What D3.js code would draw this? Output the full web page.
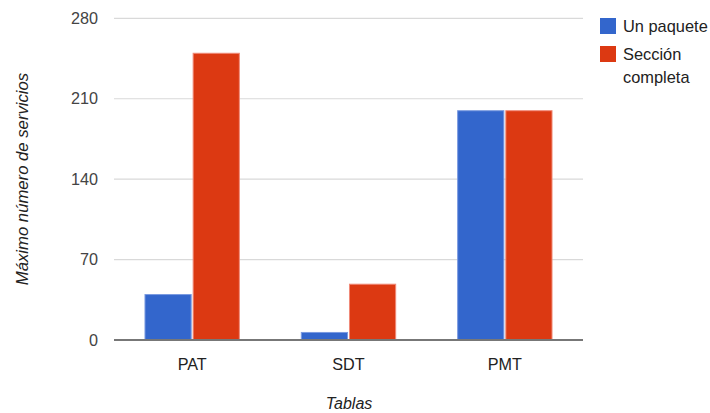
<!DOCTYPE html>
<html>
<head>
<meta charset="utf-8">
<script src="https://cdn.jsdelivr.net/npm/d3@7"></script>
<style>
  html, body { margin: 0; padding: 0; background: #fff; }
  svg { display: block; font-family: "Liberation Sans", Arial, sans-serif; }
</style>
</head>
<body>
<svg id="chart" width="710" height="413"></svg>
<script>
// Categories and series
const categories = ["PAT", "SDT", "PMT"];
const seriesNames = ["Un paquete", "Sección completa"];
const unPaquete = [40, 7, 200];
const seccionCompleta = [250, 49, 200];
const yTicks = [0, 70, 140, 210, 280];
const colors = ["#3366cc", "#dc3912"];
const strokes = ["#7a9ae0", "#f08a78"];

const seriesValues = [unPaquete, seccionCompleta];
const rows = categories.map((c, i) => ({
  cat: c,
  vals: seriesNames.map((s, j) => ({ s, j, v: seriesValues[j][i] }))
}));

const svg = d3.select("#chart");
const plotLeft = 114, plotRight = 583, plotTop = 18.3, plotBottom = 340;

const x0 = d3.scaleBand().domain(categories).range([plotLeft, plotRight])
  .paddingInner(0.39).paddingOuter(0.195);
const x1 = d3.scaleBand().domain(d3.range(seriesNames.length))
  .range([0, x0.bandwidth()]).paddingInner(0.02);
const y = d3.scaleLinear().domain([0, 280]).range([plotBottom, plotTop]);

// Gridlines
svg.append("g").selectAll("line").data(yTicks.filter(d => d > 0)).join("line")
  .attr("x1", plotLeft).attr("x2", plotRight)
  .attr("y1", d => y(d)).attr("y2", d => y(d))
  .attr("stroke", "#d9d9d9").attr("stroke-width", 1.2);

// Y tick labels
svg.append("g").selectAll("text").data(yTicks).join("text")
  .attr("x", 98).attr("y", d => y(d)).attr("dy", "0.35em")
  .attr("text-anchor", "end").attr("font-size", 16.2).attr("fill", "#444")
  .text(d => d);

// Bars
const groups = svg.append("g").selectAll("g").data(rows).join("g")
  .attr("transform", d => `translate(${x0(d.cat)},0)`);
groups.selectAll("rect").data(d => d.vals).join("rect")
  .attr("x", d => x1(d.j) + 0.5)
  .attr("width", x1.bandwidth() - 1)
  .attr("y", d => y(d.v) + 0.5)
  .attr("height", d => Math.max(0, y(0) - y(d.v) - 0.5))
  .attr("fill", d => colors[d.j])
  .attr("stroke", d => strokes[d.j]).attr("stroke-width", 1);

// Baseline
svg.append("line")
  .attr("x1", plotLeft).attr("x2", plotRight)
  .attr("y1", y(0)).attr("y2", y(0))
  .attr("stroke", "#777").attr("stroke-width", 2);

// X tick labels
svg.append("g").selectAll("text").data(categories).join("text")
  .attr("x", d => x0(d) + x0.bandwidth() / 2).attr("y", 364)
  .attr("dy", "0.35em").attr("text-anchor", "middle")
  .attr("font-size", 16.2).attr("fill", "#222")
  .text(d => d);

// Axis titles
svg.append("text")
  .attr("x", 349).attr("y", 403).attr("dy", "0.35em")
  .attr("text-anchor", "middle").attr("font-size", 16)
  .attr("font-style", "italic").attr("fill", "#222")
  .text("Tablas");
svg.append("text")
  .attr("transform", "translate(22,179) rotate(-90)")
  .attr("dy", "0.35em").attr("text-anchor", "middle").attr("font-size", 16.7)
  .attr("font-style", "italic").attr("fill", "#222")
  .text("Máximo número de servicios");

// Legend
const legendLines = [["Un paquete"], ["Sección", "completa"]];
const legend = svg.append("g").selectAll("g").data(seriesNames).join("g")
  .attr("transform", (d, i) => `translate(600,${18 + i * 28})`);
legend.append("rect").attr("width", 16).attr("height", 16)
  .attr("fill", (d, i) => colors[i]);
legend.append("text").attr("font-size", 16.4).attr("fill", "#222")
  .selectAll("tspan").data((d, i) => legendLines[i]).join("tspan")
  .attr("x", 23).attr("y", (d, k) => 8 + k * 23).attr("dy", "0.35em")
  .text(d => d);
</script>
</body>
</html>
